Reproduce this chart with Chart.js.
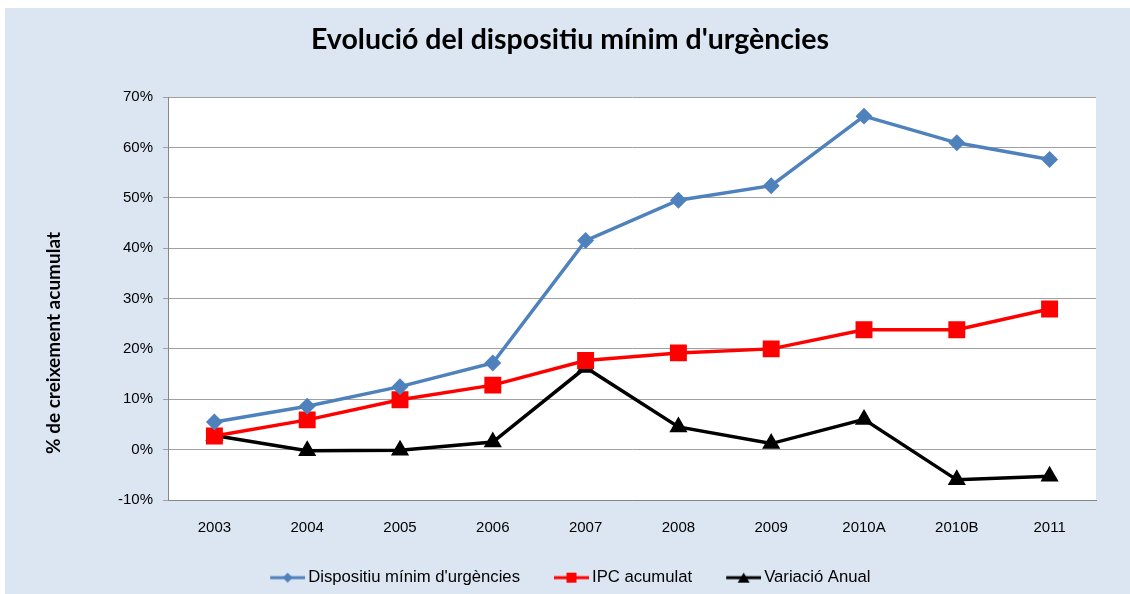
<!DOCTYPE html>
<html>
<head>
<meta charset="utf-8">
<script src="https://cdn.jsdelivr.net/npm/chart.js@4.4.0/dist/chart.umd.min.js"></script>
<style>
  html, body { margin: 0; padding: 0; background: #fff; }
  #wrap { width: 1130px; height: 594px; }
</style>
</head>
<body>
<div id="wrap"><canvas id="chart"></canvas></div>
<script>
// dades llegides del gràfic (%)
const categories = ['2003', '2004', '2005', '2006', '2007', '2008', '2009', '2010A', '2010B', '2011'];
const dispositiu = [5.5, 8.6, 12.5, 17.2, 41.5, 49.5, 52.4, 66.2, 60.9, 57.6];
const ipcAcumulat = [2.7, 5.9, 9.9, 12.8, 17.7, 19.2, 20.0, 23.8, 23.8, 27.9];
const variacioAnual = [2.8, -0.2, -0.1, 1.5, 16.3, 4.5, 1.2, 6.0, -6.0, -5.3];
const seriesNames = ["Dispositiu mínim d'urgències", 'IPC acumulat', 'Variació Anual'];
const yTicks = [-10, 0, 10, 20, 30, 40, 50, 60, 70];
const yTitle = '% de creixement acumulat';

const BLUE = '#4f81bd', RED = '#ff0000', BLACK = '#000000';

// icona de llegenda: línia + marcador (la part esquerra és transparent per separar els elements)
function legendIcon(color, shape) {
    const c = document.createElement('canvas');
    c.width = 54; c.height = 16;
    const g = c.getContext('2d');
    g.strokeStyle = color; g.fillStyle = color; g.lineWidth = 3;
    g.beginPath(); g.moveTo(19, 8); g.lineTo(54, 8); g.stroke();
    g.beginPath();
    if (shape === 'diamond') { g.moveTo(36.5, 3); g.lineTo(41.5, 8); g.lineTo(36.5, 13); g.lineTo(31.5, 8); }
    else if (shape === 'square') { g.rect(31.5, 3, 10, 10); }
    else { g.moveTo(36.5, 3); g.lineTo(42.5, 13); g.lineTo(30.5, 13); }
    g.closePath(); g.fill();
    return c;
}
const icons = [legendIcon(BLUE, 'diamond'), legendIcon(RED, 'square'), legendIcon(BLACK, 'triangle')];

// fons blau, àrea de dibuix blanca i títol de l'eix Y
const background = {
    id: 'background',
    beforeDraw(chart) {
        const ctx = chart.ctx, a = chart.chartArea;
        ctx.save();
        ctx.fillStyle = '#ffffff';
        ctx.fillRect(0, 0, chart.width, chart.height);
        ctx.fillStyle = '#dce6f2';
        ctx.fillRect(5, 8, chart.width - 5, chart.height - 8);
        ctx.fillStyle = '#ffffff';
        ctx.fillRect(a.left, a.top, a.right - a.left, a.bottom - a.top);
        ctx.restore();
    },
    afterDraw(chart) {
        const ctx = chart.ctx;
        ctx.save();
        ctx.translate(54, 343);
        ctx.rotate(-Math.PI / 2);
        ctx.font = 'bold 19px Lato';
        ctx.fillStyle = '#000';
        ctx.textAlign = 'center';
        ctx.textBaseline = 'middle';
        ctx.fillText(yTitle, 0, 0);
        ctx.restore();
    }
};

// la llegenda de l'original no està centrada
const legendShift = {
    id: 'legendShift',
    afterLayout(chart) {
        chart.legend.left -= 6.5;
        chart.legend.right -= 6.5;
        chart.legend.top += 2;
        chart.legend.bottom += 2;
    }
};

new Chart(document.getElementById('chart'), {
    type: 'line',
    data: {
        labels: categories,
        datasets: [
            { label: seriesNames[0], data: dispositiu, borderColor: BLUE, backgroundColor: BLUE,
              borderWidth: 3.5, pointStyle: 'rectRot', pointRadius: 6, pointHoverRadius: 6 },
            { label: seriesNames[1], data: ipcAcumulat, borderColor: RED, backgroundColor: RED,
              borderWidth: 3.5, pointStyle: 'rect', pointRadius: 9.5, pointHoverRadius: 9.5 },
            { label: seriesNames[2], data: variacioAnual, borderColor: BLACK, backgroundColor: BLACK,
              borderWidth: 3.5, pointStyle: 'triangle', pointRadius: 7, pointHoverRadius: 7 }
        ]
    },
    options: {
        responsive: true,
        maintainAspectRatio: false,
        animation: false,
        layout: { padding: { top: 8, left: 10, right: 0, bottom: 0 } },
        plugins: {
            title: {
                display: true,
                text: "Evolució del dispositiu mínim d'urgències",
                color: '#000',
                font: { family: 'Lato', size: 28.5, weight: 'bold' },
                padding: { top: 14.9, bottom: 39.9 }
            },
            legend: {
                position: 'bottom',
                labels: {
                    usePointStyle: true,
                    pointStyleWidth: 43.3,
                    color: '#000',
                    font: { family: 'Liberation Sans', size: 16.7 },
                    padding: 20.35,
                    generateLabels(chart) {
                        const items = Chart.defaults.plugins.legend.labels.generateLabels(chart);
                        items.forEach((it, i) => { it.pointStyle = icons[i]; });
                        return items;
                    }
                }
            },
            tooltip: { enabled: false }
        },
        scales: {
            x: {
                offset: true,
                grid: { display: false, drawTicks: false },
                border: { display: true, color: '#868686', width: 1 },
                ticks: { color: '#000', font: { family: 'Liberation Sans', size: 15 }, padding: 19 },
                afterFit(scale) { scale.height = 46.95; }
            },
            y: {
                min: -10,
                max: 70,
                afterBuildTicks(scale) { scale.ticks = yTicks.map(v => ({ value: v })); },
                grid: { color: '#a0a0a0', lineWidth: 1, tickLength: 5 },
                border: { display: true, color: '#868686', width: 1 },
                ticks: {
                    color: '#000',
                    font: { family: 'Liberation Sans', size: 15 },
                    padding: 10,
                    callback: v => v + '%'
                },
                afterFit(scale) { scale.width = 158; }
            },
            yRight: {
                position: 'right',
                grid: { display: false, drawTicks: false },
                border: { display: false },
                ticks: { display: false },
                afterFit(scale) { scale.width = 34; }
            }
        }
    },
    plugins: [background, legendShift]
});
</script>
</body>
</html>
